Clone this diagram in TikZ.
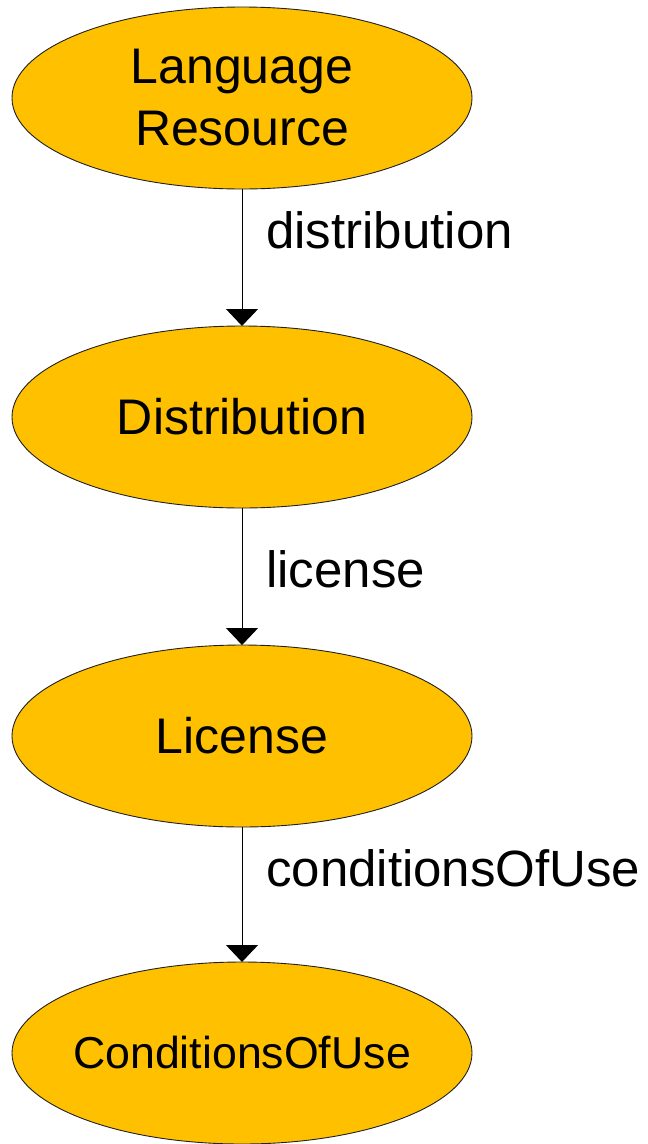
\documentclass[tikz,border=0pt]{standalone}
\usepackage{fontspec}
\setmainfont{Liberation Sans}
\usetikzlibrary{shapes.geometric,arrows.meta}
\definecolor{gold}{HTML}{FFC000}
\definecolor{rim}{HTML}{202020}
\begin{document}
\begin{tikzpicture}[x=1pt,y=-1pt,
  ell/.style={ellipse,draw=rim,fill=gold,line width=0.9pt,minimum width=460pt,minimum height=182pt,inner sep=0pt,outer sep=0pt,align=center,font=\fontsize{50}{62}\selectfont},
  lbl/.style={anchor=base west,inner sep=0pt,font=\fontsize{51}{62}\selectfont},
  arr/.style={line width=1pt,-{Triangle[width=32pt,length=17pt]}}]
\useasboundingbox (0,0) rectangle (648,1144);
\node[ell] (lr) at (242,98) {Language\\Resource};
\node[ell] (dist) at (242,417) {Distribution};
\node[ell] (lic) at (242,736) {License};
\node[ell,inner xsep=-30pt,font=\fontsize{44.7}{54}\selectfont] (cou) at (242,1053) {ConditionsOfUse};
\draw[arr] (lr) -- (dist);
\draw[arr] (dist) -- (lic);
\draw[arr] (lic) -- (cou);
\node[lbl] (l1) at (266,248) {distribution};
\node[lbl] (l2) at (266,587) {license};
\node[lbl] (l3) at (266,886) {conditionsOfUse};
\end{tikzpicture}
\end{document}
